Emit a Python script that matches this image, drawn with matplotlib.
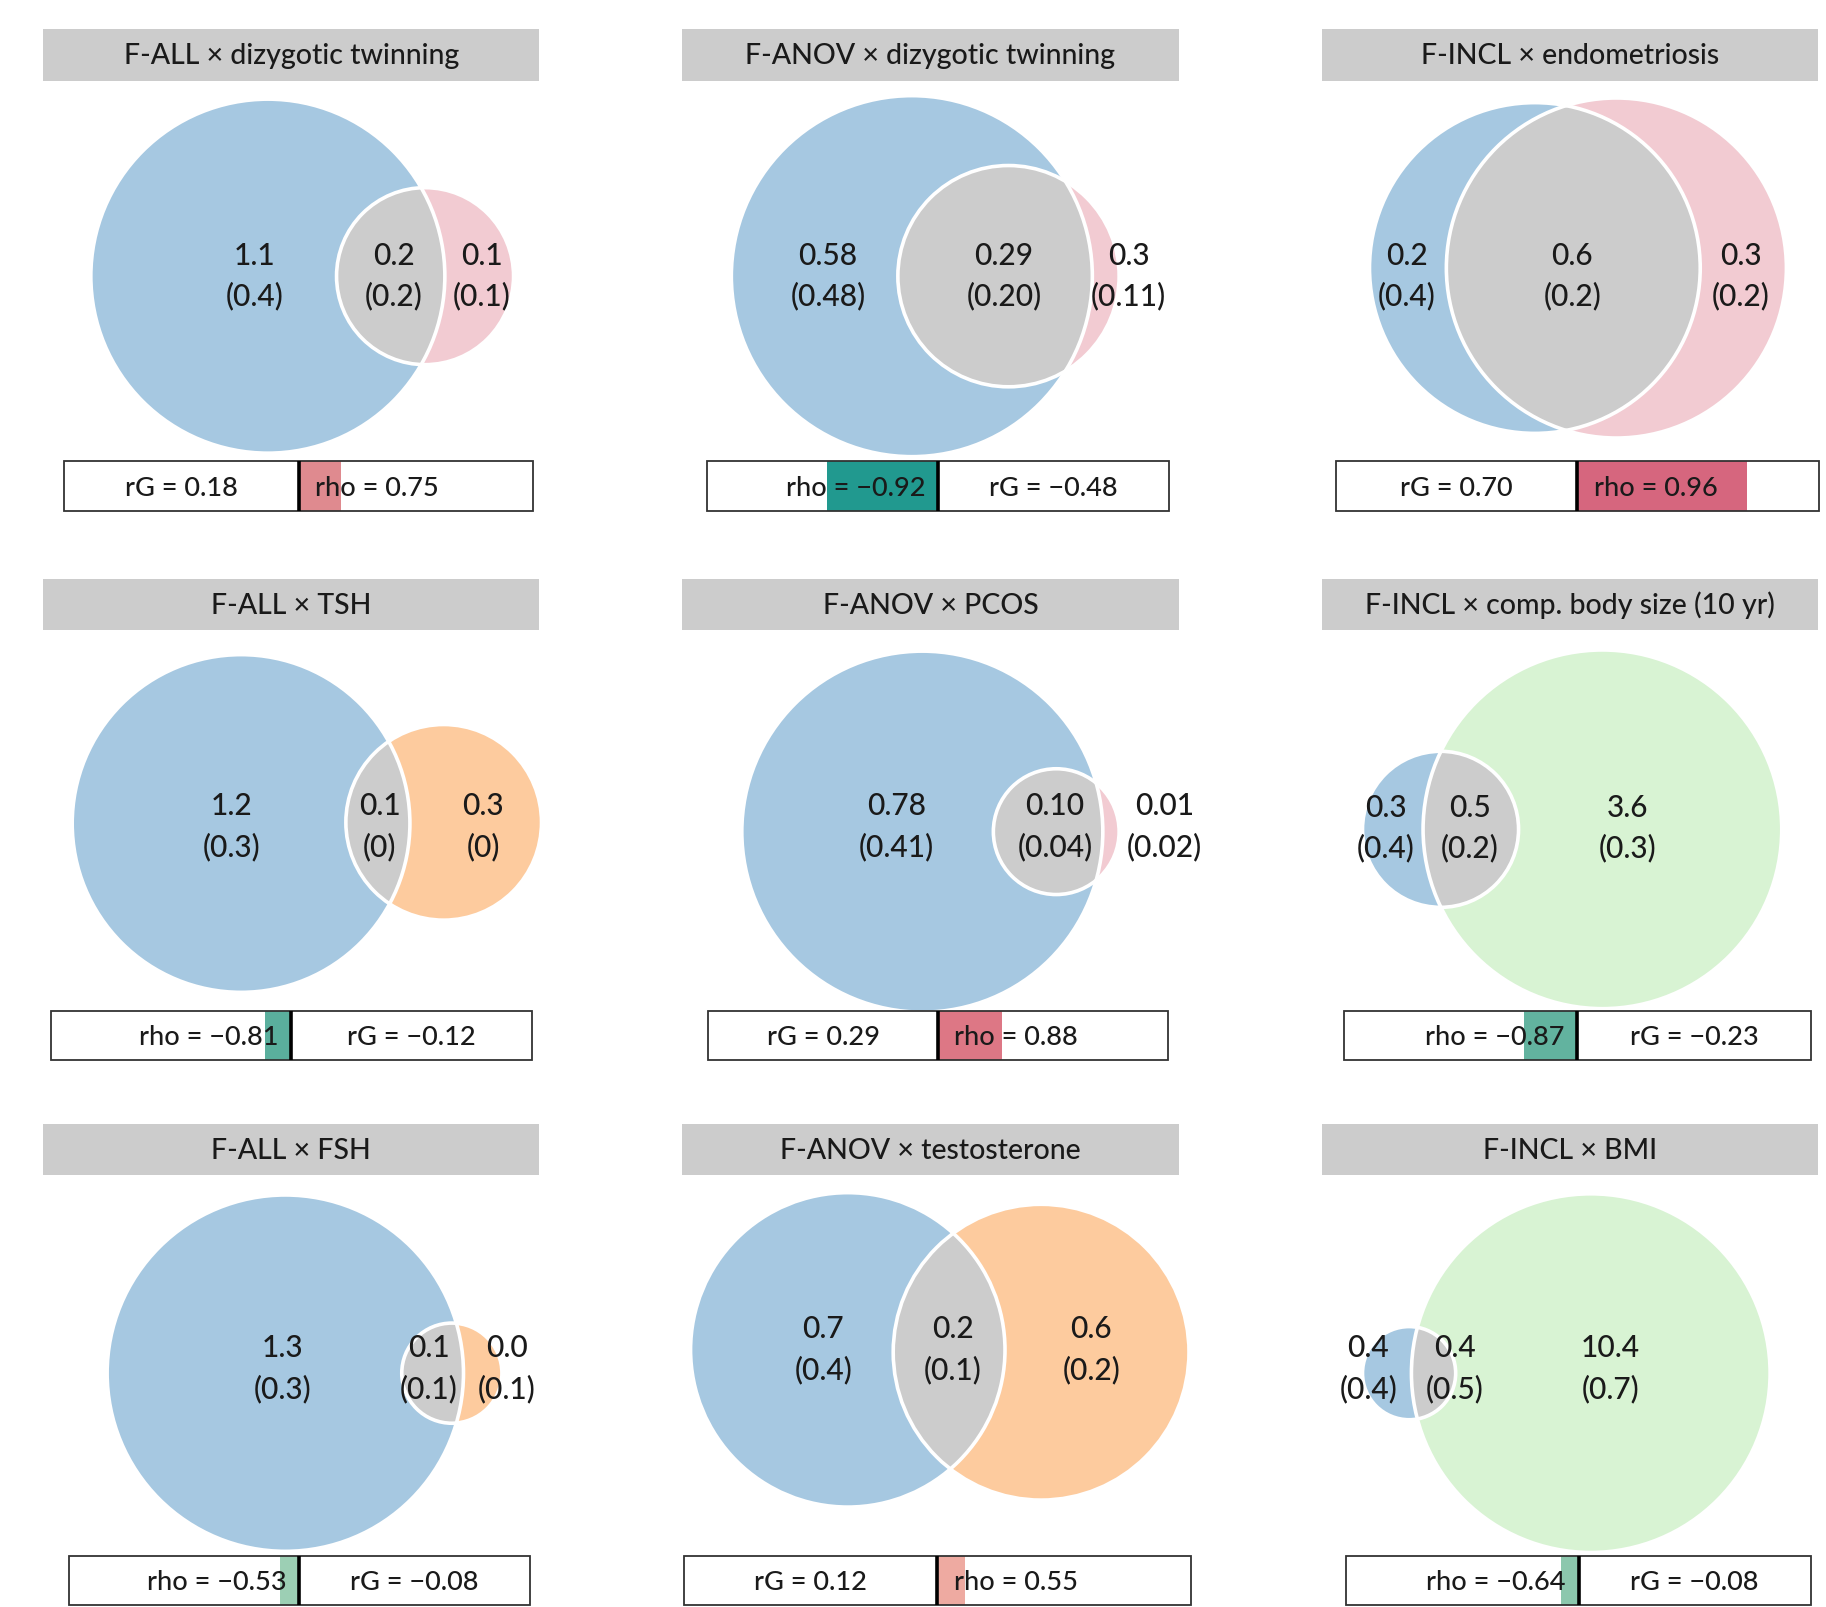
import matplotlib
matplotlib.use('Agg')
import matplotlib.pyplot as plt
from matplotlib.patches import Circle, Rectangle

plt.rcParams['font.family'] = ['Lato', 'DejaVu Sans']
plt.rcParams['font.weight'] = 'medium'

# ---- data ----
titles = ['F-ALL × dizygotic twinning', 'F-ANOV × dizygotic twinning', 'F-INCL × endometriosis',
          'F-ALL × TSH', 'F-ANOV × PCOS', 'F-INCL × comp. body size (10 yr)',
          'F-ALL × FSH', 'F-ANOV × testosterone', 'F-INCL × BMI']
# estimate (se) per region: trait 1 only / shared / trait 2 only
a_only = ['1.1', '0.58', '0.2', '1.2', '0.78', '0.3', '1.3', '0.7', '0.4']
a_only_se = ['0.4', '0.48', '0.4', '0.3', '0.41', '0.4', '0.3', '0.4', '0.4']
shared = ['0.2', '0.29', '0.6', '0.1', '0.10', '0.5', '0.1', '0.2', '0.4']
shared_se = ['0.2', '0.20', '0.2', '0', '0.04', '0.2', '0.1', '0.1', '0.5']
b_only = ['0.1', '0.3', '0.3', '0.3', '0.01', '3.6', '0.0', '0.6', '10.4']
b_only_se = ['0.1', '0.11', '0.2', '0', '0.02', '0.3', '0.1', '0.2', '0.7']
rg = [0.18, -0.48, 0.70, -0.12, 0.29, -0.23, -0.08, 0.12, -0.08]
rho = [0.75, -0.92, 0.96, -0.81, 0.88, -0.87, -0.53, 0.55, -0.64]
rho_bar = [0.18, 0.48, 0.70, 0.11, 0.28, 0.23, 0.085, 0.11, 0.077]

# ---- layout (panel-local px, origin = top-left of the title strip) ----
# circle A (x, y, r), circle B (x, y, r), label x for the 3 regions, label y
venn = [
    ((193, 212, 152), (328, 212, 76), (182, 301, 377), 211),
    ((197, 212, 155), (280, 212, 95), (125, 276, 383), 211),
    ((183, 205, 142), (253, 205, 146), (73, 215, 360), 211),
    ((170, 210, 145), (344, 209, 84), (162, 289, 378), 212),
    ((206, 217, 155), (321, 217, 54), (184, 320, 414), 212),
    ((102, 215, 67), (241, 215, 154), (55, 127, 263), 213),
    ((208, 214, 153), (351, 214, 43), (206, 331, 398), 209),
    ((142, 194, 135), (308, 196, 127), (121, 232, 351), 193),
    ((75, 214, 40), (231, 214, 154), (40, 114, 248), 209),
]
bar_center = [219.5, 219.5, 219.5, 213, 219.5, 219.5, 220, 219, 220.5]
bar_half = [201.5, 198.5, 207.5, 206.5, 197.5, 200.5, 198, 218, 199.5]
col_x = [37, 586, 1135]
row_y = [26, 498, 966]

BLUE = '#a6c8e1'
GRAY = '#cccccc'
b_colors = ['#f2cbd2', '#f2cbd2', '#f2cbd2', '#fdcb9e', '#f2cbd2', '#d8f3d3',
            '#fdcb9e', '#fdcb9e', '#d8f3d3']
bar_colors = ['#df8a8f', '#21998f', '#d6667e', '#5aaf9d', '#dd7785', '#62b39f',
              '#9ccfb4', '#eeaaa1', '#8cc7ad']

W, H = 1568, 1568 * 1608 / 1826
TXT = '#1a1a1a'


def fmt(v):
    return f'{v:.2f}'.replace('-', '\u2212')


fig = plt.figure(figsize=(18.26, 16.08), dpi=100)
ax = fig.add_axes([0, 0, 1, 1])
ax.set_xlim(0, W)
ax.set_ylim(H, 0)
ax.set_aspect('equal')
ax.axis('off')

for i in range(9):
    ox, oy = col_x[i % 3], row_y[i // 3]

    # title strip
    ax.add_patch(Rectangle((ox, oy), 426, 44, fc=GRAY, ec='none'))
    ax.text(ox + 213, oy + 22, titles[i], ha='center', va='center', fontsize=20.5, color=TXT)

    # venn circles
    (ax_, ay_, ra), (bx_, by_, rb), lx, ly = venn[i]
    ca = Circle((ox + ax_, oy + ay_), ra, fc=BLUE, ec='none', zorder=1)
    cb = Circle((ox + bx_, oy + by_), rb, fc=b_colors[i], ec='none', zorder=1)
    ax.add_patch(ca)
    ax.add_patch(cb)
    inter = Circle((ox + bx_, oy + by_), rb, fc=GRAY, ec='none', zorder=2)
    ax.add_patch(inter)
    inter.set_clip_path(ca)
    for c in [(ox + ax_, oy + ay_, ra), (ox + bx_, oy + by_, rb)]:
        ax.add_patch(Circle(c[:2], c[2], fill=False, ec='white', lw=2.6, zorder=3))

    for x, top, bot in zip(lx, [a_only[i], shared[i], b_only[i]],
                           [a_only_se[i], shared_se[i], b_only_se[i]]):
        ax.text(ox + x, oy + ly - 17.5, top, ha='center', va='center', fontsize=21.5,
                color=TXT, zorder=5)
        ax.text(ox + x, oy + ly + 17.5, '(' + bot + ')', ha='center', va='center',
                fontsize=21.5, color=TXT, zorder=5)

    # rG / rho box
    cx, hw = ox + bar_center[i], bar_half[i]
    y0, y1 = oy + 371, oy + 413.5
    ax.add_patch(Rectangle((cx - hw, y0), 2 * hw, y1 - y0, fc='white', ec='none', zorder=6))
    sgn = 1 if rho[i] > 0 else -1
    ax.barh((y0 + y1) / 2, sgn * rho_bar[i] * hw, left=cx, height=y1 - y0,
            color=bar_colors[i], zorder=7)
    ax.add_patch(Rectangle((cx - hw, y0), 2 * hw, y1 - y0, fc='none', ec='#333333',
                           lw=1.3, zorder=8))
    ax.plot([cx, cx], [y0, y1], color='black', lw=2.6, zorder=9, solid_capstyle='butt')

    ym = (y0 + y1) / 2 + 1
    rho_txt = 'rho = ' + fmt(rho[i])
    rg_txt = 'rG = ' + fmt(rg[i])
    if sgn > 0:
        ax.text(cx + 14, ym, rho_txt, ha='left', va='center', fontsize=19.5, color=TXT, zorder=10)
        ax.text(cx - hw / 2, ym, rg_txt, ha='center', va='center', fontsize=19.5, color=TXT, zorder=10)
    else:
        ax.text(cx - 11, ym, rho_txt, ha='right', va='center', fontsize=19.5, color=TXT, zorder=10)
        ax.text(cx + hw / 2, ym, rg_txt, ha='center', va='center', fontsize=19.5, color=TXT, zorder=10)

fig.savefig('out.png', dpi=100, facecolor='white')
